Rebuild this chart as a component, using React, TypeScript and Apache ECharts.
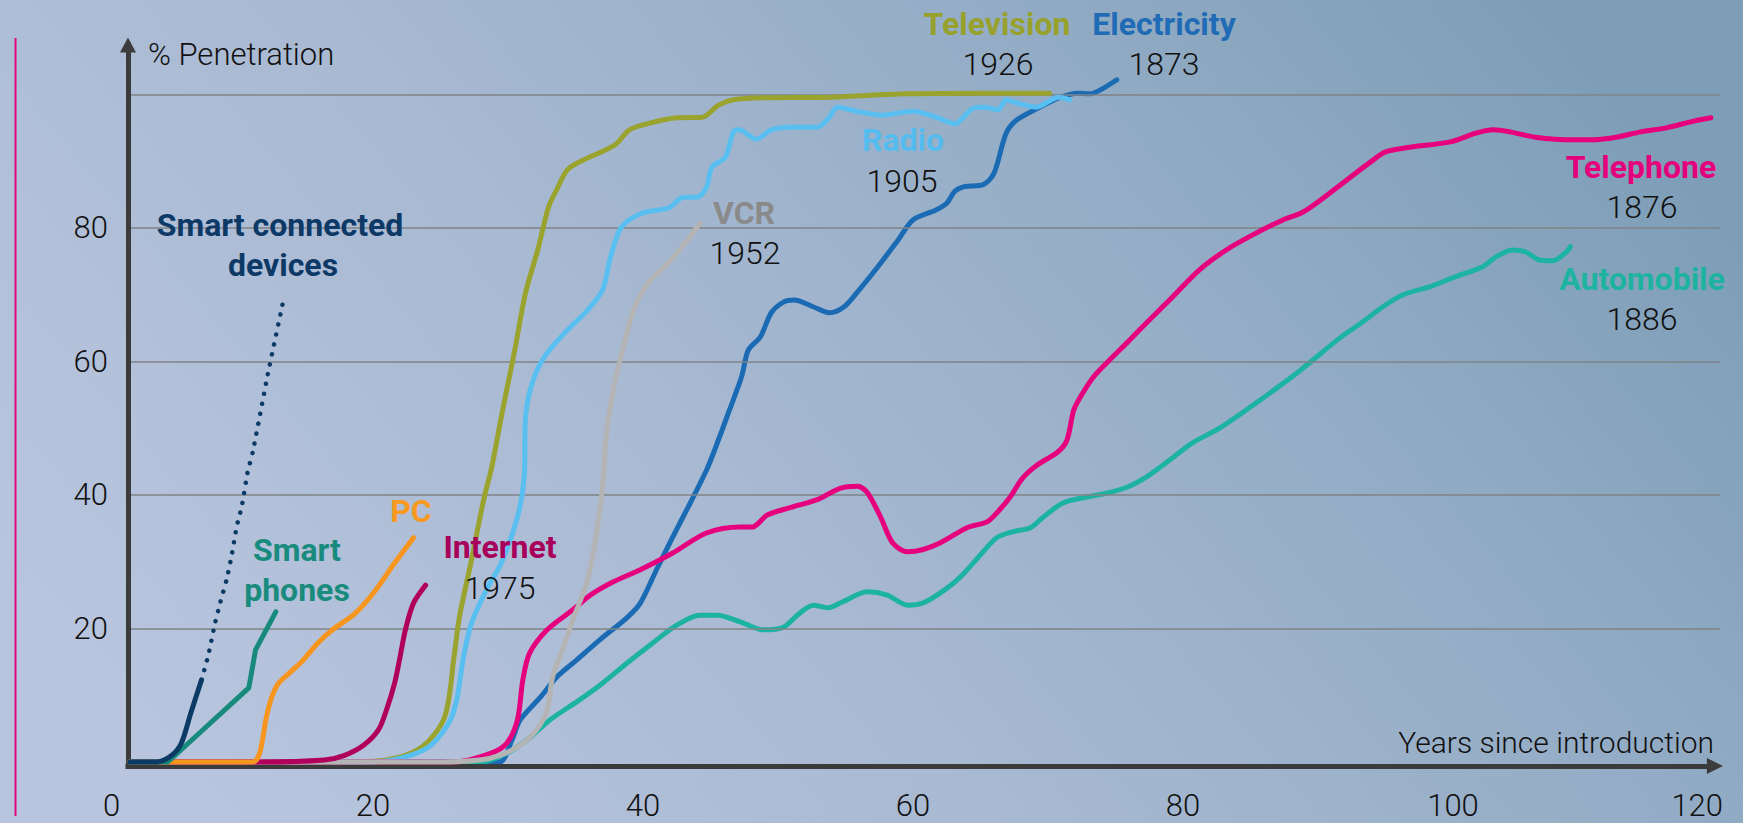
import React, { useEffect, useRef } from "react";
import * as echarts from "echarts";

type Pt = [number, number];

// ---------- axis settings ----------
const X_MIN = 0;
const X_MAX = 120;
const X_INTERVAL = 20;
const Y_MIN = -0.6;
const Y_MAX = 107.5;
const Y_TICK_LABELS = [20, 40, 60, 80];
const GRID_VALUES = [20, 40, 60, 80, 100];
const AXIS_ORIGIN_X = 1.85; // where the drawn y axis crosses the x scale
const GRID_END_X = 119.8;
const X_ARROW_END = 119.4;
const Y_ARROW_END = 107.4;

// ---------- data: [years since introduction, % penetration] ----------
const electricity: Pt[] = [[2,0],[28,0],[29.4,0],[30.3,3.3],[30.9,6.3],[32.4,9.7],[33.6,12.7],[35.1,15.3],[36.8,18.3],[38.8,21.6],[39.8,23.8],[41,28.8],[42.2,33.7],[43.5,38.8],[44.7,43.7],[45.3,46.7],[46.4,52.7],[47.3,57.7],[47.8,61.7],[48.7,63.7],[49.5,67.3],[50.4,68.9],[51.2,69.2],[52.6,68.2],[53.8,67.3],[54.9,68.2],[56,70.7],[57.4,74.2],[58.9,78.2],[60,81.2],[61.7,82.7],[62.5,83.7],[63.1,85.5],[63.8,86.2],[65.2,86.5],[66,88.2],[66.9,94.2],[67.7,96.2],[69.4,98.1],[70.8,99.5],[72.2,100.2],[73.1,100.1],[73.9,100.7],[75.1,102.2]];
const automobile: Pt[] = [[2,0],[27,0],[28.1,0],[29.9,1.3],[31.4,3.3],[33.1,6.3],[35.3,9.3],[37,11.8],[38.8,14.8],[40.7,17.8],[42.5,20.5],[44.2,22],[45.5,22],[47.2,21],[48.9,19.8],[50.4,20.2],[51.6,22.3],[52.6,23.5],[53.7,23.1],[54.8,24],[56.6,25.5],[58.1,25],[59.6,23.5],[60.7,23.8],[62,25.3],[63.5,27.7],[65.2,31.5],[66.2,33.6],[67.4,34.5],[68.7,35.1],[69.6,36.6],[71.1,38.8],[72.9,39.7],[74.4,40.3],[75.9,41.2],[77.3,42.7],[78.8,44.9],[80.7,47.8],[82.7,50],[85.7,54.2],[88.7,58.7],[91.6,63.5],[93.3,65.9],[94.8,68.2],[96.3,70],[98.3,71.2],[100.2,72.7],[102.2,74.2],[103.2,75.7],[104.4,76.7],[105.4,76.4],[106.4,75.2],[107.4,75.1],[108.4,76.4],[108.7,77.2]];
const television: Pt[] = [[2,0],[18,0],[21,0.3],[23.6,2.2],[25.3,6.7],[26,15.7],[26.4,21.7],[27.3,30.3],[28.2,39.3],[28.8,44.2],[29.6,52.7],[30.5,61.7],[31.3,70.3],[32.2,76.7],[33,83.1],[33.6,85.7],[34.4,88.7],[35.6,90.2],[37.9,92.4],[39,94.7],[40.5,95.7],[42.5,96.5],[44.4,96.6],[45.6,98.4],[46.7,99.2],[49,99.5],[53.9,99.6],[59.5,100.1],[65.2,100.2],[70.1,100.2]];
const radio: Pt[] = [[2,0],[20,0],[22.1,0.6],[24.1,2.2],[25.6,5.8],[26.2,9.3],[26.7,15.7],[27.3,20.8],[28.4,25.8],[29.5,29.8],[30.7,36.7],[31.2,42.7],[31.3,51.7],[31.8,56.8],[32.7,60.7],[34.4,64.7],[35.9,67.7],[37,70.7],[37.6,75.7],[38.4,80.1],[39.9,82.2],[41.9,83],[43,84.6],[44,84.6],[44.7,86.1],[45.1,89.1],[46.1,90.6],[46.7,94.4],[47.1,94.7],[48.4,93.3],[49.5,94.7],[50.9,95.1],[52.9,95.1],[53.8,96.6],[54.4,98.1],[56,97.4],[57.7,96.9],[60,97.5],[61.7,96.6],[63.1,95.6],[64.5,98],[65.3,98.1],[66.3,97.7],[66.9,99.2],[67.4,98.9],[69.1,98.1],[70.8,99.6],[71.6,99.2]];
const telephone: Pt[] = [[2,0],[26,0],[28.7,1.3],[29.9,2.8],[30.7,6.3],[31.1,12.3],[31.6,16.3],[32.9,19.8],[34.8,22.8],[36.1,25],[37.8,27],[39.8,28.8],[42.2,31.3],[44.7,34.3],[47.2,35.2],[48.1,35.2],[49.2,37],[50.9,38.1],[52.9,39.3],[54.6,41],[55.9,41.3],[56.6,40.4],[57.6,36.7],[58.5,32.8],[59.6,31.5],[60.7,31.8],[62,32.8],[64,35.1],[65.5,36],[66.2,37.3],[67.2,39.7],[68.1,42.5],[69.2,44.5],[70.7,46.4],[71.4,48.2],[71.9,52.7],[72.4,54.7],[73.3,57.5],[74.4,59.9],[75.9,62.9],[77.3,65.8],[79,69.2],[81.2,73.7],[83.2,76.7],[85.2,79],[87.4,81.2],[88.9,82.4],[90.4,84.5],[92.4,87.6],[93.9,89.9],[95,91.4],[96.8,92.1],[99.8,92.9],[101.7,94.2],[103,94.7],[104.2,94.4],[106.1,93.6],[108.9,93.2],[110.1,93.2],[112.1,93.6],[113.9,94.4],[115.8,95],[117.6,95.9],[119.1,96.5]];
const vcr: Pt[] = [[2,0],[25,0],[27.9,0.3],[29.4,1],[30.9,2.5],[32.1,4.8],[32.9,7.8],[33.3,12.7],[34.1,17.2],[34.8,21.3],[35.9,27.3],[36.6,34.8],[37,41.2],[37.3,49.3],[37.9,56.8],[38.3,60.2],[39.3,67.7],[40.4,71.8],[41.9,74.8],[43.3,78.2],[44.2,80.7]];
const internet: Pt[] = [[2,0],[11.6,0],[16.4,0.3],[17.9,1],[19.3,2.5],[20.4,4.8],[21,7.8],[21.6,11.8],[22,15.7],[22.4,19.8],[23,23.8],[23.9,26.5]];
const pc: Pt[] = [[2,0],[11.1,0],[11.6,1.3],[12.1,6.7],[12.5,9.7],[13,11.8],[13.9,13.5],[14.7,15],[15.9,17.8],[17,19.8],[18.7,22.3],[20.1,25.5],[21.6,29.8],[23,33.6]];
const smartPhones: Pt[] = [[2,0],[4.8,0],[10.8,11.1],[11.3,16.8],[12.8,22.5]];
const smartConnected: Pt[] = [[2,0],[4,0],[5.1,1],[5.8,2.8],[6.5,7.3],[7.3,12.3]];
const smartConnectedForecast: Pt[] = [[7.3,12.3],[7.8,16],[8.3,20.8],[8.7,24],[9.15,27.3],[9.5,30.6],[9.9,35.2],[10.3,38.5],[10.7,43.3],[11.1,46.5],[12.2,58],[13.4,69.5]];

// ---------- names, years, colours ----------
const seriesNames = ["Electricity", "Automobile", "Television", "Radio", "Telephone", "VCR", "Internet", "PC", "Smart phones", "Smart connected devices", "Smart connected devices (forecast)"];
const seriesData = [electricity, automobile, television, radio, telephone, vcr, internet, pc, smartPhones, smartConnected, smartConnectedForecast];
const lineColors = ["#1a6bb4", "#1db3a2", "#99a32d", "#59bff0", "#e6007e", "#b4b4b4", "#b0005c", "#f7961e", "#178a7c", "#0b3a65", "#0b3a65"];

const introYears: Record<string, string> = {
  Television: "1926",
  Electricity: "1873",
  Radio: "1905",
  VCR: "1952",
  Telephone: "1876",
  Automobile: "1886",
  Internet: "1975",
};

const FONT = "Roboto, 'Liberation Sans', Arial, sans-serif";

// label layout (pixel positions of annotation texts)
const nameLabels = [
  { text: "Television", x: 997, y: 24, color: "#97a12c" },
  { text: "Electricity", x: 1164, y: 24, color: "#1f6bb5" },
  { text: "Radio", x: 903, y: 140, color: "#55bcef" },
  { text: "VCR", x: 744, y: 213, color: "#8a8a8a" },
  { text: "Telephone", x: 1641, y: 167, color: "#e4007c" },
  { text: "Automobile", x: 1642, y: 279, color: "#1db3a0" },
  { text: "Internet", x: 500, y: 547, color: "#a8005a" },
  { text: "PC", x: 411, y: 511, color: "#f89a1f" },
  { text: "Smart", x: 297, y: 550, color: "#198b7d" },
  { text: "phones", x: 297, y: 590, color: "#198b7d" },
  { text: "Smart connected", x: 280, y: 225, color: "#0d3966" },
  { text: "devices", x: 283, y: 265, color: "#0d3966" },
];
const yearLabels = [
  { key: "Television", x: 998, y: 64 },
  { key: "Electricity", x: 1164, y: 64 },
  { key: "Radio", x: 902, y: 181 },
  { key: "VCR", x: 745, y: 253 },
  { key: "Telephone", x: 1642, y: 207 },
  { key: "Automobile", x: 1642, y: 319 },
  { key: "Internet", x: 500, y: 588 },
];

function textEl(text: string, x: number, y: number, color: string, weight: string | number, size: number) {
  return {
    type: "text",
    x,
    y,
    silent: true,
    z: 50,
    style: {
      text,
      fill: color,
      fontFamily: FONT,
      fontSize: size,
      fontWeight: weight,
      align: "center",
      verticalAlign: "middle",
      textAlign: "center",
      textVerticalAlign: "middle",
    },
  };
}

function buildOption() {
  const gridLines = GRID_VALUES.map((v) => [
    { coord: [AXIS_ORIGIN_X, v], symbol: "none", lineStyle: { color: "#7f8387", width: 1.6, type: "solid" } },
    { coord: [GRID_END_X, v], symbol: "none" },
  ]);
  const axisStyle = { color: "#3b3b3b", width: 5, type: "solid", cap: "square" };
  const xArrow = [
    { coord: [AXIS_ORIGIN_X, Y_MIN], symbol: "none", lineStyle: axisStyle },
    { coord: [X_ARROW_END, Y_MIN], symbol: "triangle", symbolSize: [16, 16] },
  ];
  const yArrow = [
    { coord: [AXIS_ORIGIN_X, Y_MIN], symbol: "none", lineStyle: axisStyle },
    { coord: [AXIS_ORIGIN_X, Y_ARROW_END], symbol: "triangle", symbolSize: [16, 15] },
  ];

  const dataSeries = seriesNames.map((name, i) => {
    const isForecast = name.indexOf("forecast") >= 0;
    const isPhones = name === "Smart phones";
    return {
      type: "line",
      name,
      data: seriesData[i],
      showSymbol: false,
      symbol: "none",
      smooth: isPhones ? false : isForecast ? 0.2 : 0.3,
      silent: true,
      z: 3 + i,
      lineStyle: {
        color: lineColors[i],
        width: isForecast ? 4.5 : 5,
        type: isForecast ? [0.1, 10] : "solid",
        cap: "round",
        join: "round",
      },
      itemStyle: { color: lineColors[i] },
    };
  });

  const graphics: any[] = [
    {
      type: "line",
      silent: true,
      shape: { x1: 15.5, y1: 38, x2: 15.5, y2: 816 },
      style: { stroke: "#e0097d", lineWidth: 2 },
    },
  ];
  nameLabels.forEach((l) => graphics.push(textEl(l.text, l.x, l.y, l.color, "bold", 32)));
  yearLabels.forEach((l) => graphics.push(textEl(introYears[l.key], l.x, l.y, "#111111", 300, 32)));

  return {
    animation: false,
    backgroundColor: new echarts.graphic.LinearGradient(0, 0.7, 1, 0.3, [
      { offset: 0, color: "#b9c5df" },
      { offset: 0.4, color: "#a8b9d2" },
      { offset: 0.75, color: "#92abc4" },
      { offset: 1, color: "#7e9eb7" },
    ]),
    grid: { left: 103, right: 20, top: 44.4, bottom: 57, containLabel: false, outerBoundsMode: "none" },
    xAxis: {
      type: "value",
      min: X_MIN,
      max: X_MAX,
      interval: X_INTERVAL,
      name: "Years since introduction",
      nameLocation: "end",
      nameGap: -9,
      nameTextStyle: { align: "right", verticalAlign: "bottom", fontSize: 30, fontFamily: FONT, fontWeight: 300, color: "#111", padding: [0, 0, 4, 0] },
      axisLine: { show: false },
      axisTick: { show: false },
      splitLine: { show: false },
      axisLabel: { margin: 24, fontSize: 31, color: "#111", fontFamily: FONT, fontWeight: 300, alignMinLabel: "left", alignMaxLabel: "right" },
    },
    yAxis: {
      type: "value",
      min: Y_MIN,
      max: Y_MAX,
      splitNumber: 5,
      offset: -25,
      name: "% Penetration",
      nameLocation: "end",
      nameGap: -10,
      nameTextStyle: { align: "left", verticalAlign: "middle", fontSize: 31, fontFamily: FONT, fontWeight: 300, color: "#111", padding: [0, 0, 0, 20] },
      axisLine: { show: false, onZero: false },
      axisTick: { show: false },
      splitLine: { show: false },
      axisLabel: {
        margin: 20,
        fontSize: 31,
        color: "#111",
        fontFamily: FONT,
        fontWeight: 300,
        customValues: Y_TICK_LABELS,
        formatter: (v: number) => (Y_TICK_LABELS.indexOf(Math.round(v * 1000) / 1000) >= 0 ? String(v) : ""),
      },
    },
    graphic: graphics,
    series: [
      {
        type: "line",
        name: "axes",
        data: [],
        silent: true,
        clip: false,
        z: 1,
        markLine: {
          silent: true,
          animation: false,
          symbol: ["none", "none"],
          label: { show: false },
          emphasis: { disabled: true },
          data: [...gridLines, xArrow, yArrow],
        },
      },
      ...dataSeries,
    ],
  };
}

export default function App() {
  const ref = useRef<HTMLDivElement>(null);
  useEffect(() => {
    document.body.style.margin = "0";
    const chart = echarts.init(ref.current as HTMLDivElement, null, { renderer: "svg" });
    chart.setOption(buildOption() as any);
    return () => chart.dispose();
  }, []);
  return <div ref={ref} style={{ position: "absolute", left: 0, top: 0, width: 1743, height: 823 }} />;
}
